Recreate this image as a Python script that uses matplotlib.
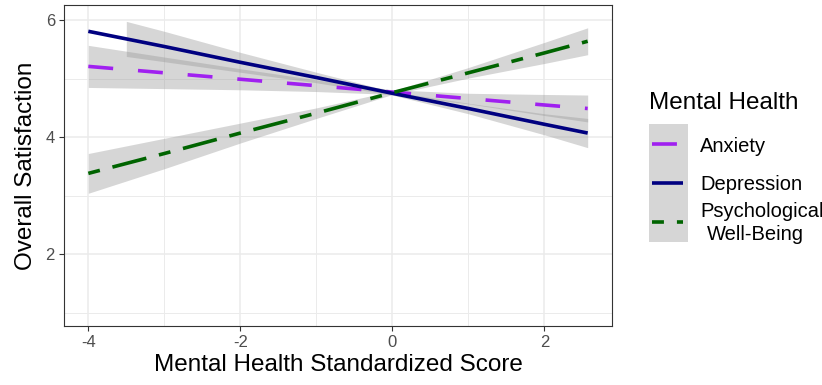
import matplotlib
matplotlib.use('Agg')
import matplotlib.pyplot as plt
from matplotlib.patches import Rectangle
import numpy as np

plt.rcParams['font.family'] = ['Liberation Sans', 'DejaVu Sans']

# fitted lines and confidence bands
anx_x = [-4, -3, -2, -1, 0, 1, 2, 2.57]
anx_y = [5.21, 5.10, 4.99, 4.88, 4.77, 4.66, 4.55, 4.49]
anx_hw = [0.36, 0.27, 0.18, 0.10, 0.04, 0.09, 0.18, 0.23]

dep_x = [-4, -3.5, -3, -2, -1, 0, 1, 2, 2.57]
dep_y = [5.81, 5.68, 5.55, 5.28, 5.02, 4.75, 4.49, 4.22, 4.07]
dep_hw = [np.nan, 0.30, 0.26, 0.17, 0.09, 0.03, 0.09, 0.18, 0.25]

pwb_x = [-4, -3, -2, -1, 0, 1, 2, 2.57]
pwb_y = [3.38, 3.72, 4.07, 4.41, 4.76, 5.10, 5.44, 5.64]
pwb_hw = [0.34, 0.26, 0.17, 0.09, 0.03, 0.09, 0.18, 0.23]

labels = ['Anxiety', 'Depression', 'Psychological\nWell-Being']
colors = ['#A020F0', '#000080', '#006400']
styles = [(0, (6.9, 6.9)), '-', (0, (3.3, 3.6, 9.7, 3.6))]
LW = 2.6
RIBBON = '#999999'

fig = plt.figure(figsize=(8.22, 3.85), dpi=100)
ax = fig.add_axes([64 / 822, 1 - 326 / 385, 548 / 822, 321 / 385])

series = [(anx_x, anx_y, anx_hw), (dep_x, dep_y, dep_hw), (pwb_x, pwb_y, pwb_hw)]
for (x, y, hw), c, ls in zip(series, colors, styles):
    x = np.array(x, float)
    y = np.array(y, float)
    hw = np.array(hw, float)
    ok = ~np.isnan(hw)
    ax.fill_between(x[ok], y[ok] - hw[ok], y[ok] + hw[ok], color=RIBBON, alpha=0.4, lw=0, zorder=2)
    ax.plot(x, y, color=c, lw=LW, linestyle=ls, solid_capstyle='butt', dash_capstyle='butt', zorder=3)

ax.set_xlim(-4.32, 2.89)
ax.set_ylim(0.77, 6.26)
ax.set_xticks([-4, -2, 0, 2])
ax.set_xticklabels(['-4', '-2', '0', '2'])
ax.set_yticks([2, 4, 6])
ax.set_xticks([-3, -1, 1], minor=True)
ax.set_yticks([1, 3, 5], minor=True)
ax.grid(which='major', color='#EBEBEB', lw=1.1, zorder=0)
ax.grid(which='minor', color='#EBEBEB', lw=0.7, zorder=0)
ax.set_axisbelow(True)
ax.tick_params(which='major', length=3.5, width=0.8, color='#333333', labelsize=12,
               labelcolor='#4D4D4D', pad=3)
ax.tick_params(which='minor', length=0)
for s in ax.spines.values():
    s.set_color('#333333')
    s.set_linewidth(0.8)

ax.set_xlabel('Mental Health Standardized Score', fontsize=17.5, labelpad=3)
ax.set_ylabel('Overall Satisfaction', fontsize=17.5, labelpad=6)

# legend drawn by hand in pixel space
lg = fig.add_axes([0, 0, 1, 1])
lg.set_xlim(0, 822)
lg.set_ylim(385, 0)
lg.axis('off')
lg.text(649, 109, 'Mental Health', fontsize=17.5, va='baseline', ha='left')
lg.add_patch(Rectangle((649, 124), 39, 118, color=RIBBON, alpha=0.4, lw=0))
key_y = [144, 183, 222]
for ky, c, ls in zip(key_y, colors, styles):
    lg.plot([652, 683], [ky, ky], color=c, lw=LW, linestyle=ls, solid_capstyle='butt', dash_capstyle='butt')
lg.text(700, 152, labels[0], fontsize=14.5, va='baseline')
lg.text(700, 190, labels[1], fontsize=14.5, va='baseline')
lg.text(700, 217, labels[2].split('\n')[0], fontsize=14.5, va='baseline')
lg.text(707, 240, labels[2].split('\n')[1], fontsize=14.5, va='baseline')

fig.savefig('out.png', dpi=100)
